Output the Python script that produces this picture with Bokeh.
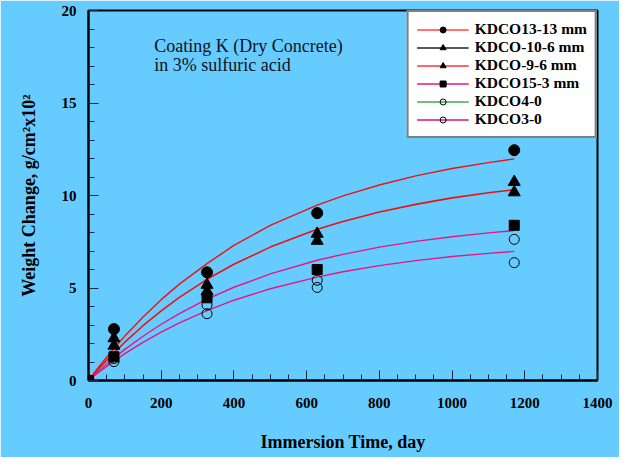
from bokeh.plotting import figure
from bokeh.models import Range1d, Legend, LegendItem, Label, FixedTicker
from bokeh.embed import file_html
from bokeh.resources import INLINE

# ---- data ----
days = [0, 70, 326, 629, 1171]
kdco13_13 = [0, 2.78, 5.85, 9.05, 12.45]
kdco10_6 = [0, 2.28, 5.17, 7.93, 10.73]
kdco9_6 = [0, 1.88, 4.82, 7.55, 10.17]
kdco15_3 = [0, 1.28, 4.47, 6.0, 8.39]
kdco4_0 = [0, 1.19, 4.08, 5.42, 7.63]
kdco3_0 = [0, 1.02, 3.61, 5.03, 6.37]

curve_days = [0, 25, 50, 75, 100, 150, 200, 250, 326, 400, 500, 629, 700, 800, 900, 1000, 1100, 1171]
curve_a = [0, 0.65, 1.26, 1.85, 2.40, 3.43, 4.37, 5.21, 6.32, 7.30, 8.38, 9.48, 9.98, 10.57, 11.06, 11.46, 11.78, 11.98]
curve_b = [0, 0.56, 1.09, 1.59, 2.07, 2.96, 3.76, 4.49, 5.47, 6.28, 7.21, 8.17, 8.60, 9.11, 9.52, 9.87, 10.15, 10.31]
curve_c = [0, 0.45, 0.88, 1.29, 1.68, 2.39, 3.04, 3.62, 4.40, 5.04, 5.76, 6.50, 6.82, 7.21, 7.52, 7.77, 7.98, 8.10]
curve_d = [0, 0.39, 0.76, 1.11, 1.45, 2.06, 2.62, 3.12, 3.78, 4.34, 4.96, 5.59, 5.88, 6.21, 6.48, 6.70, 6.87, 6.98]

x_ticks = [0, 200, 400, 600, 800, 1000, 1200, 1400]
y_ticks = [0, 5, 10, 15, 20]

BG = "#66CCFF"
SERIF = "Liberation Serif"
NAN = float("nan")

p = figure(width=619, height=457, output_backend="svg", toolbar_location=None,
           x_range=Range1d(0, 1400), y_range=Range1d(0, 20),
           min_border_left=88, min_border_right=22, min_border_top=10, min_border_bottom=77)
p.background_fill_color = BG
p.border_fill_color = BG
p.outline_line_color = "black"
p.outline_line_width = 2
p.grid.visible = False

for ax in (p.xaxis[0], p.yaxis[0]):
    ax.axis_line_width = 2
    ax.major_tick_in = 10
    ax.major_tick_out = 0
    ax.minor_tick_in = 6
    ax.minor_tick_out = 0
    ax.major_tick_line_color = "#222244"
    ax.minor_tick_line_color = "#222244"
    ax.major_label_text_font = SERIF
    ax.major_label_text_font_style = "bold"
    ax.major_label_text_font_size = "15px"
    ax.major_label_text_color = "black"
    ax.axis_label_text_font = SERIF
    ax.axis_label_text_font_style = "bold"
    ax.axis_label_text_font_size = "18px"
    ax.axis_label_text_color = "black"

p.xaxis.ticker = FixedTicker(ticks=x_ticks, minor_ticks=list(range(0, 1401, 50)))
p.yaxis.ticker = FixedTicker(ticks=y_ticks, minor_ticks=list(range(0, 21)))
p.xaxis.major_label_standoff = 17
p.yaxis.major_label_standoff = 12
p.xaxis.axis_label = "Immersion Time, day"
p.xaxis.axis_label_standoff = 21
p.yaxis.axis_label = "Weight Change, g/cm\u00b2x10\u00b2"
p.yaxis.axis_label_standoff = 20

# fitted curves
red = "#EE1111"
pink = "#E8157E"
p.line(curve_days, curve_a, line_color=red, line_width=1.4)
p.line(curve_days, curve_b, line_color=red, line_width=1.6)
p.line(curve_days, curve_c, line_color=pink, line_width=1.4)
p.line(curve_days, curve_d, line_color=pink, line_width=1.4)

series = [
    ("KDCO13-13 mm", kdco13_13, "circle", True, "#FF4444", 11),
    ("KDCO-10-6 mm", kdco10_6, "triangle", True, "#222222", 12),
    ("KDCO-9-6 mm", kdco9_6, "triangle", True, "#FF3333", 12),
    ("KDCO15-3 mm", kdco15_3, "square", True, "#EE1188", 10),
    ("KDCO4-0", kdco4_0, "circle", False, "#44AA44", 10),
    ("KDCO3-0", kdco3_0, "circle", False, "#DD1177", 10),
]

items = []
for name, vals, marker, filled, lc, size in series:
    lr = p.line(x=[NAN, NAN], y=[NAN, NAN], line_color=lc, line_width=1.3)
    sr = p.scatter(days, vals, marker=marker, size=size, line_color="black", line_width=1,
                   fill_color="black" if filled else "white", fill_alpha=1 if filled else 0)
    items.append(LegendItem(label=name, renderers=[lr, sr]))

legend = Legend(items=items, location="top_right", margin=0, padding=8,
                spacing=0, glyph_width=52, glyph_height=15, label_height=15,
                label_standoff=6, label_text_font=SERIF, label_text_font_style="bold",
                label_text_font_size="15.5px", label_text_color="black",
                border_line_color="black", border_line_width=2,
                background_fill_color="white", background_fill_alpha=1)
p.add_layout(legend)

p.add_layout(Label(x=181, y=18.62, text="Coating K (Dry Concrete)", text_font=SERIF,
                   text_font_size="18px", text_color="#111122", text_baseline="top"))
p.add_layout(Label(x=181, y=17.58, text="in 3% sulfuric acid", text_font=SERIF,
                   text_font_size="18px", text_color="#111122", text_baseline="top"))

open("out.html", "w").write(file_html(p, INLINE))
